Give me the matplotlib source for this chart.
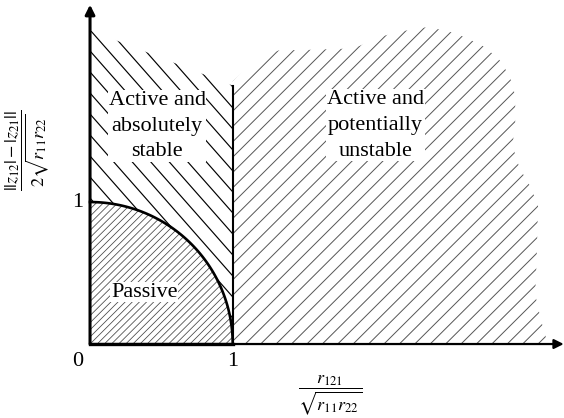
#!/usr/bin/python

"""
Stability regions of a two-port, drawn as hatched regions
"""
import numpy as np
import matplotlib
matplotlib.use('Agg')
import matplotlib.pyplot as plt
from matplotlib.collections import LineCollection
from matplotlib.patches import Polygon

plt.rcParams['font.family'] = ['Liberation Serif', 'DejaVu Serif']
plt.rcParams['mathtext.fontset'] = 'stix'

# Region outlines (data units)
passive_radius = 1.0
stable_top = [(0.0, 2.21), (1.0, 1.82)]
unstable_outline_x = [1.00, 1.11, 1.21, 1.33, 1.47, 1.79, 1.89, 2.02, 2.17, 2.35,
                      2.49, 2.63, 2.77, 2.87, 2.94, 2.98, 2.98, 2.96, 3.01, 3.08,
                      3.14, 3.13, 3.12, 3.16, 3.20, 3.20]
unstable_outline_y = [1.85, 1.95, 2.03, 2.07, 2.07, 2.08, 2.10, 2.16, 2.20, 2.23,
                      2.21, 2.16, 2.09, 2.00, 1.89, 1.75, 1.54, 1.40, 1.24, 1.12,
                      0.98, 0.59, 0.35, 0.17, 0.03, 0.00]

# Axes extent and labels
x_axis_end = 3.32
y_axis_end = 2.39
region_labels = ['Active and\nabsolutely\nstable', 'Active and\npotentially\nunstable', 'Passive']
region_label_pos = [(0.47, 1.535), (2.0, 1.54), (0.38, 0.366)]
xlabel = r'$\dfrac{r_{121}}{\sqrt{r_{11}r_{22}}}$'
ylabel = r'$\dfrac{||z_{12}|-|z_{21}||}{2\sqrt{r_{11}r_{22}}}$'


def hatch(ax, patch, slope, step, color, lw):
    # straight lines y = slope*x + c, clipped to the patch
    xs = np.array([-1.0, 4.0])
    cs = np.arange(-8.0, 8.0, step)
    segs = [np.column_stack([xs, slope * xs + c]) for c in cs]
    lc = LineCollection(segs, colors=color, linewidths=lw, zorder=2)
    ax.add_collection(lc)
    lc.set_clip_path(patch)


def main():
    fig = plt.figure(figsize=(5.64, 4.18), dpi=100)
    ax = fig.add_axes([0, 0, 1, 1])
    ax.set_xlim(-0.631, 3.322)
    ax.set_ylim(-0.521, 2.423)
    ax.axis('off')

    # Passive quarter disc
    t = np.linspace(0, np.pi / 2, 100)
    arc = np.column_stack([passive_radius * np.cos(t), passive_radius * np.sin(t)])
    passive = Polygon(np.vstack([[[0, 0]], arc]), closed=True,
                      facecolor='none', edgecolor='none', transform=ax.transData)
    ax.add_patch(passive)
    hatch(ax, passive, 1.0, 0.05, '#444444', 0.55)

    # Active and absolutely stable
    stable = Polygon(np.vstack([arc[::-1][:1], stable_top, [[1.0, 0.0]], arc]),
                     closed=True, facecolor='none', edgecolor='none',
                     transform=ax.transData)
    ax.add_patch(stable)
    hatch(ax, stable, -1.14, 0.148, 'black', 0.85)

    # Active and potentially unstable
    pts = np.column_stack([unstable_outline_x, unstable_outline_y])
    unstable = Polygon(np.vstack([pts, [[1.0, 0.0]]]), closed=True,
                       facecolor='none', edgecolor='none', transform=ax.transData)
    ax.add_patch(unstable)
    hatch(ax, unstable, 1.0, 0.108, '#555555', 0.7)

    # Boundaries
    ax.plot(arc[:, 0], arc[:, 1], color='black', lw=1.9, zorder=4)
    ax.plot([1, 1], [0, stable_top[1][1]], color='black', lw=1.5, zorder=4)
    ax.plot([0, 1], [0, 0], color='black', lw=2.4, zorder=5)

    # Axes with arrows
    ax.annotate('', xy=(x_axis_end, 0), xytext=(0, 0),
                arrowprops=dict(arrowstyle='-|>', lw=1.6, color='black',
                                mutation_scale=14, shrinkA=0, shrinkB=0), zorder=5)
    ax.annotate('', xy=(0, y_axis_end), xytext=(0, 0),
                arrowprops=dict(arrowstyle='-|>', lw=2.2, color='black',
                                mutation_scale=14, shrinkA=0, shrinkB=0), zorder=5)

    # Region labels
    for lbl, (x, y) in zip(region_labels, region_label_pos):
        ax.text(x, y, lbl, ha='center', va='center', fontsize=16,
                linespacing=1.48, zorder=6,
                bbox=dict(facecolor='white', edgecolor='none', pad=0.5))

    # Tick labels
    ax.text(-0.09, -0.12, '0', ha='center', va='center', fontsize=16)
    ax.text(1.0, -0.12, '1', ha='center', va='center', fontsize=16)
    ax.text(-0.085, 1.0, '1', ha='center', va='center', fontsize=16)

    # Axis labels
    ax.text(1.68, -0.36, xlabel, ha='center', va='center', fontsize=13)
    ax.text(-0.44, 1.366, ylabel, ha='center', va='center', fontsize=13,
            rotation=90)

    fig.savefig('out.png', dpi=100)


if __name__ == '__main__':
    main()
